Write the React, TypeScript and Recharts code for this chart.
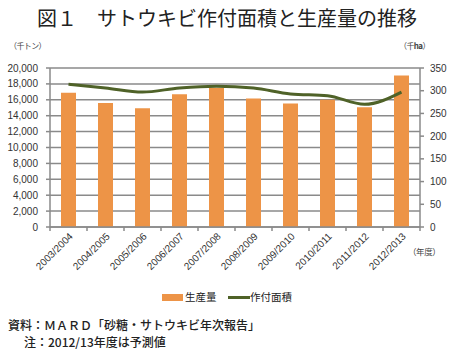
import React from 'react';
import { ComposedChart, Bar, Line, XAxis, YAxis, CartesianGrid } from 'recharts';

const years = ['2003/2004', '2004/2005', '2005/2006', '2006/2007', '2007/2008', '2008/2009', '2009/2010', '2010/2011', '2011/2012', '2012/2013'];
const production = [16900, 15600, 14950, 16700, 17500, 16150, 15550, 16000, 15050, 19050];
const area = [314, 306, 297, 306, 310, 306, 293, 289, 270, 297];
const leftTicks = [0, 2000, 4000, 6000, 8000, 10000, 12000, 14000, 16000, 18000, 20000];
const rightTicks = [0, 50, 100, 150, 200, 250, 300, 350];

const data = years.map((y, i) => ({ year: y, production: production[i], area: area[i] }));

const BAR = '#ED9447';
const LINE = '#4F6228';
const GRID = '#8A8A8A';
const JP = '"Noto Sans CJK JP", sans-serif';
const NUM = '"Liberation Sans", Arial, sans-serif';

const XTick = (props: any) => {
  const { x, y, payload, index } = props;
  const half = 18.5;
  return (
    <g>
      <line x1={x - half} x2={x - half} y1={y} y2={y + 4} stroke={GRID} strokeWidth={1.5} />
      {index === years.length - 1 && (
        <line x1={x + half} x2={x + half} y1={y} y2={y + 4} stroke={GRID} strokeWidth={1.5} />
      )}
      <text
        transform={`translate(${x + 5},${y + 10}) rotate(-45)`}
        textAnchor="end"
        fontSize={10}
        fontFamily={NUM}
        fill="#333"
      >
        {payload.value}
      </text>
    </g>
  );
};

export default function App() {
  return (
    <div style={{ position: 'absolute', left: 0, top: 0, width: 454, height: 353, background: '#fff', fontFamily: JP, color: '#222' }}>
      <div style={{ position: 'absolute', left: 0, top: 4, width: 454, textAlign: 'center', fontSize: 20, fontWeight: 400, lineHeight: '28px' }}>
        図１　サトウキビ作付面積と生産量の推移
      </div>
      <div style={{ position: 'absolute', left: 9, top: 40, fontSize: 8, lineHeight: '12px', color: '#444', letterSpacing: -0.6 }}>（千トン）</div>
      <div style={{ position: 'absolute', left: 399, top: 40, fontSize: 8, lineHeight: '12px', color: '#444', letterSpacing: -0.6 }}>（千<b>ha</b>）</div>
      <ComposedChart
        width={454}
        height={353}
        data={data}
        margin={{ top: 68, right: 0, left: 0, bottom: 0 }}
        barCategoryGap={0}
      >
        <CartesianGrid yAxisId="left" vertical={false} stroke={GRID} strokeWidth={1.5} />
        <XAxis
          dataKey="year"
          height={126}
          interval={0}
          tickLine={false}
          tickSize={0}
          tickMargin={0}
          axisLine={{ stroke: GRID, strokeWidth: 1.5 }}
          tick={<XTick />}
        />
        <YAxis
          yAxisId="left"
          width={50}
          domain={[0, 20000]}
          ticks={leftTicks}
          interval={0}
          tickSize={4}
          tickMargin={8}
          axisLine={{ stroke: GRID, strokeWidth: 1.5 }}
          tickLine={{ stroke: GRID, strokeWidth: 1.5 }}
          tick={{ fontSize: 10, fontFamily: NUM, fill: '#333' }}
          tickFormatter={(v: number) => v.toLocaleString('en-US')}
        />
        <YAxis
          yAxisId="right"
          orientation="right"
          width={34}
          domain={[0, 350]}
          ticks={rightTicks}
          interval={0}
          tickSize={4}
          tickMargin={6}
          axisLine={{ stroke: GRID, strokeWidth: 1.5 }}
          tickLine={{ stroke: GRID, strokeWidth: 1.5 }}
          tick={{ fontSize: 10, fontFamily: NUM, fill: '#333' }}
        />
        <Bar yAxisId="left" dataKey="production" fill={BAR} barSize={15} isAnimationActive={false} />
        <Line
          yAxisId="right"
          dataKey="area"
          type="monotone"
          stroke={LINE}
          strokeWidth={3}
          dot={false}
          activeDot={false}
          isAnimationActive={false}
        />
      </ComposedChart>
      <div style={{ position: 'absolute', left: 408, top: 245, fontSize: 8.5, lineHeight: '12px', color: '#444', letterSpacing: -0.4 }}>（年度）</div>
      <div style={{ position: 'absolute', left: 0, top: 289, width: 454, height: 16, fontSize: 10.5 }}>
        <div style={{ position: 'absolute', left: 162, top: 4.5, width: 21, height: 7, background: BAR }} />
        <div style={{ position: 'absolute', left: 185, top: 0, lineHeight: '16px' }}>生産量</div>
        <div style={{ position: 'absolute', left: 228, top: 6.5, width: 22, height: 3, background: LINE }} />
        <div style={{ position: 'absolute', left: 250, top: 0, lineHeight: '16px' }}>作付面積</div>
      </div>
      <div style={{ position: 'absolute', left: 8, top: 318, fontSize: 12, lineHeight: '14px', fontWeight: 500 }}>
        資料：ＭＡＲＤ「砂糖・サトウキビ年次報告」
      </div>
      <div style={{ position: 'absolute', left: 24, top: 335, fontSize: 12, lineHeight: '14px', fontWeight: 500 }}>
        注：2012/13年度は予測値
      </div>
    </div>
  );
}
